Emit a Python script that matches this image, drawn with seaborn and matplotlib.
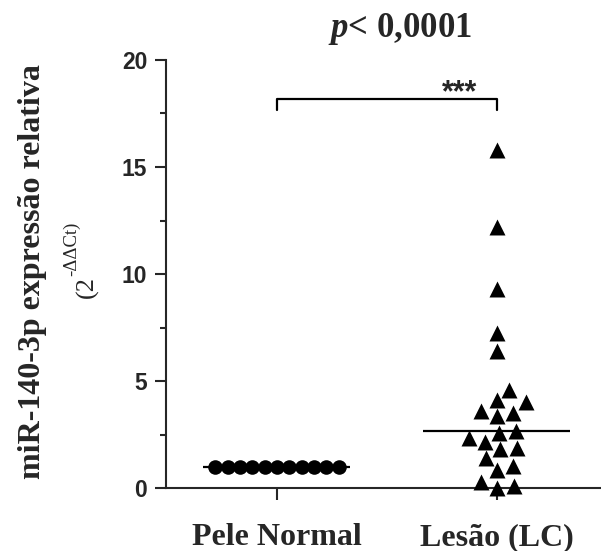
import numpy as np
import pandas as pd
import matplotlib
matplotlib.use("Agg")
import matplotlib.pyplot as plt
import seaborn as sns

# values
groups = ["Pele Normal", "Lesão (LC)"]
pele_normal = [1.0] * 11
lesao = [15.8, 12.2, 9.3, 7.25, 6.4, 4.6, 4.1, 4.0, 3.6, 3.5, 3.35, 2.65,
         2.55, 2.35, 2.15, 1.85, 1.8, 1.4, 1.05, 0.85, 0.3, 0.1, 0.02]
yticks = [0, 5, 10, 15, 20]
title = "$\\mathbfit{p}$< 0,0001"
ylabel = "miR-140-3p expressão relativa"
ylabel_base = "(2"
ylabel_sup = "-ΔΔCt)"

sns.set_style("ticks")
plt.rcParams["font.family"] = ["Liberation Serif", "DejaVu Serif"]
plt.rcParams["mathtext.fontset"] = "custom"
plt.rcParams["mathtext.rm"] = "Liberation Serif"
plt.rcParams["mathtext.it"] = "Liberation Serif:italic"
plt.rcParams["mathtext.bf"] = "Liberation Serif:bold"
plt.rcParams["mathtext.bfit"] = "Liberation Serif:italic:bold"

W, H = 601, 551
fig = plt.figure(figsize=(W / 100, H / 100), dpi=100)
ax = fig.add_axes([166 / W, 1 - 488 / H, (600 - 166) / W, (488 - 60) / H])

df = pd.DataFrame({"grupo": [groups[1]] * len(lesao), "valor": lesao})
sns.swarmplot(data=df, x="grupo", y="valor", order=groups, marker="^",
              color="black", size=11.5, linewidth=0, ax=ax, clip_on=False)

# normal skin: all values at 1, drawn side by side and overlapping
xn = np.linspace(-0.28, 0.28, len(pele_normal))
sns.scatterplot(x=xn, y=pele_normal, color="black", s=110, linewidth=0,
                ax=ax, legend=False, clip_on=False)

# medians
for i, vals in enumerate([pele_normal, lesao]):
    ax.hlines(np.median(vals), i - 0.335, i + 0.33, color="black", lw=1.6, zorder=5)

# significance bracket
ax.plot([0, 0, 1, 1], [17.66, 18.17, 18.17, 17.66], color="black", lw=1.6,
        clip_on=False)
ax.text(0.83, 18.45, "***", ha="center", va="center", fontsize=22,
        fontweight="bold", family="Liberation Sans")

ax.set_xlim(-0.5045, 1.468)
ax.set_ylim(0, 20)
ax.set_yticks(yticks)
ax.set_yticks([2.5, 7.5, 12.5, 17.5], minor=True)
ax.set_xticks([0, 1])
ax.set_xticklabels(groups, fontsize=23, fontweight="bold",
                   family="Liberation Serif")
ax.set_yticklabels([str(t) for t in yticks], fontsize=16.5, fontweight="bold",
                   family="Liberation Sans")
ax.set_xlabel("")
ax.set_ylabel("")
ax.tick_params(axis="y", which="major", length=8, width=1.5, pad=5.5)
ax.tick_params(axis="y", which="minor", length=4.3, width=1.5)
ax.tick_params(axis="x", length=8.5, width=1.5, pad=17)
sns.despine(ax=ax)
for s in ["left", "bottom"]:
    ax.spines[s].set_linewidth(1.5)

fig.text(400 / W, 1 - 29 / H, title, ha="center", va="center",
         fontsize=25, fontweight="bold")
fig.text(33 / W, 1 - 272 / H, ylabel, rotation=90, ha="center",
         va="center", fontsize=23, fontweight="bold")

# second label line: "(2" with a raised "-ΔΔCt)"
t1 = fig.text(93 / W, 1 - 298 / H, ylabel_base, rotation=90,
              rotation_mode="anchor", ha="left", va="baseline", fontsize=19)
fig.canvas.draw()
ext = t1.get_window_extent()
fig.text(76 / W, ext.y1 / H, ylabel_sup, rotation=90, rotation_mode="anchor",
         ha="left", va="baseline", fontsize=13.5)

fig.savefig("out.png", dpi=100)
